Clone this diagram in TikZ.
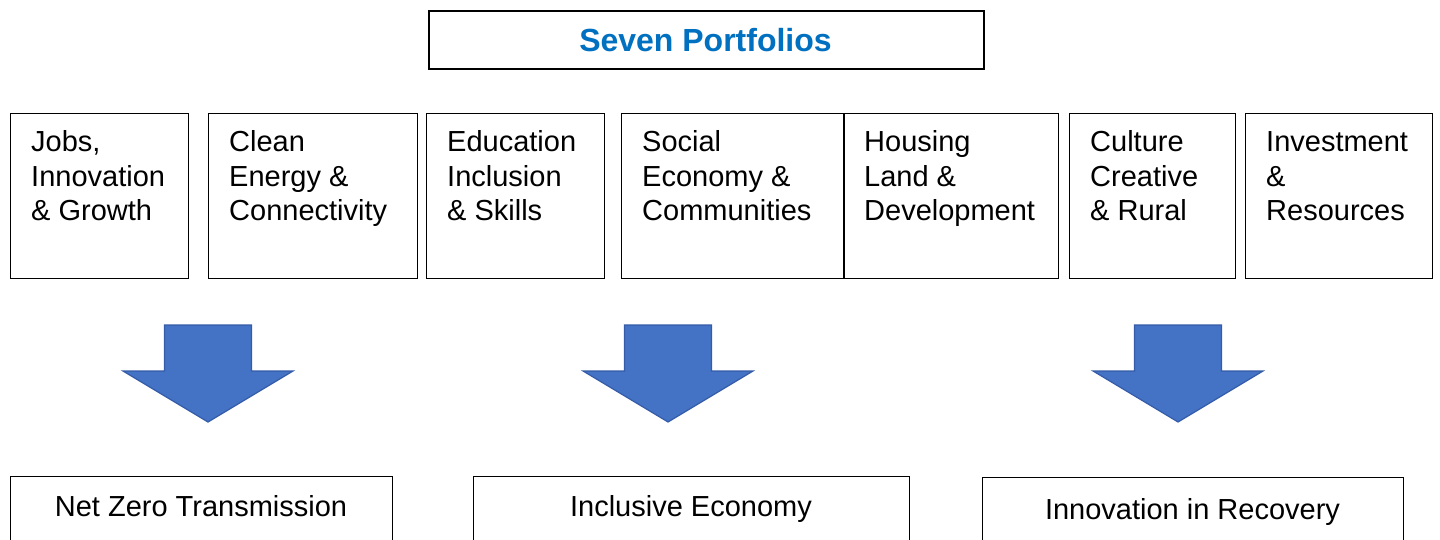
\documentclass[tikz,border=0pt]{standalone}
\usepackage{fontspec}
\setmainfont{Liberation Sans}
\definecolor{titleblue}{RGB}{0,112,192}
\definecolor{arrowblue}{RGB}{68,114,196}
\definecolor{arrowedge}{RGB}{52,92,168}
\begin{document}
\begin{tikzpicture}[x=1pt,y=-1pt,
  portbox/.style={draw=black, line width=1.3pt, inner sep=0pt, anchor=north west},
  porttext/.style={anchor=base west, inner sep=0pt, font=\fontsize{29}{34.5}\selectfont},
  outbox/.style={draw=black, line width=1.3pt, inner sep=0pt, anchor=north west},
  outtext/.style={anchor=base, inner sep=0pt, font=\fontsize{29}{34.5}\selectfont},
  bigarrow/.style={fill=arrowblue, draw=arrowedge, line width=1.2pt, line join=miter}
]
\clip (0,0) rectangle (1440,540);
\fill[white] (0,0) rectangle (1440,540);

% heading
\node[draw=black, line width=1.6pt, minimum width=555pt, minimum height=58pt, inner sep=0pt, anchor=north west] (title) at (428,10) {};
\node[anchor=base, inner sep=0pt, text=titleblue, font=\fontsize{32}{36}\selectfont\bfseries] (titletext) at (705.5,51.5) {Seven Portfolios};

% the seven portfolio boxes
\newcommand{\portfolio}[5]{%
  \node[portbox, minimum width=#3pt, minimum height=165pt] (#1) at (#2,113) {};
  \node[porttext] (#1t) at (#2+21,152) {\parbox[t]{#4pt}{\raggedright #5}};
}
\portfolio{p1}{10}{178}{160}{Jobs,\\Innovation\\\& Growth}
\portfolio{p2}{208}{209}{190}{Clean\\Energy \&\\Connectivity}
\portfolio{p3}{426}{178}{160}{Education\\Inclusion\\\& Skills}
\portfolio{p4}{621}{223}{200}{Social\\Economy \&\\Communities}
\portfolio{p5}{843}{215}{195}{Housing\\Land \&\\Development}
\portfolio{p6}{1069}{166}{150}{Culture\\Creative\\\& Rural}
\portfolio{p7}{1245}{187}{170}{Investment\\\&\\Resources}

% block arrows
\newcommand{\blockarrow}[1]{%
  \draw[bigarrow] (#1-43.5,325) -- (#1+43.5,325) -- (#1+43.5,371) -- (#1+85,371)
    -- (#1,422) -- (#1-85,371) -- (#1-43.5,371) -- cycle;
}
\blockarrow{208}
\blockarrow{668}
\blockarrow{1178}

% outcome boxes
\node[outbox, minimum width=382pt, minimum height=100pt] (o1) at (10,476) {};
\node[outtext] (o1t) at (201,516) {Net Zero Transmission};
\node[outbox, minimum width=436pt, minimum height=100pt] (o2) at (473,476) {};
\node[outtext] (o2t) at (691,516) {Inclusive Economy};
\node[outbox, minimum width=421pt, minimum height=100pt] (o3) at (982,477) {};
\node[outtext] (o3t) at (1192.5,519) {Innovation in Recovery};
\end{tikzpicture}
\end{document}
